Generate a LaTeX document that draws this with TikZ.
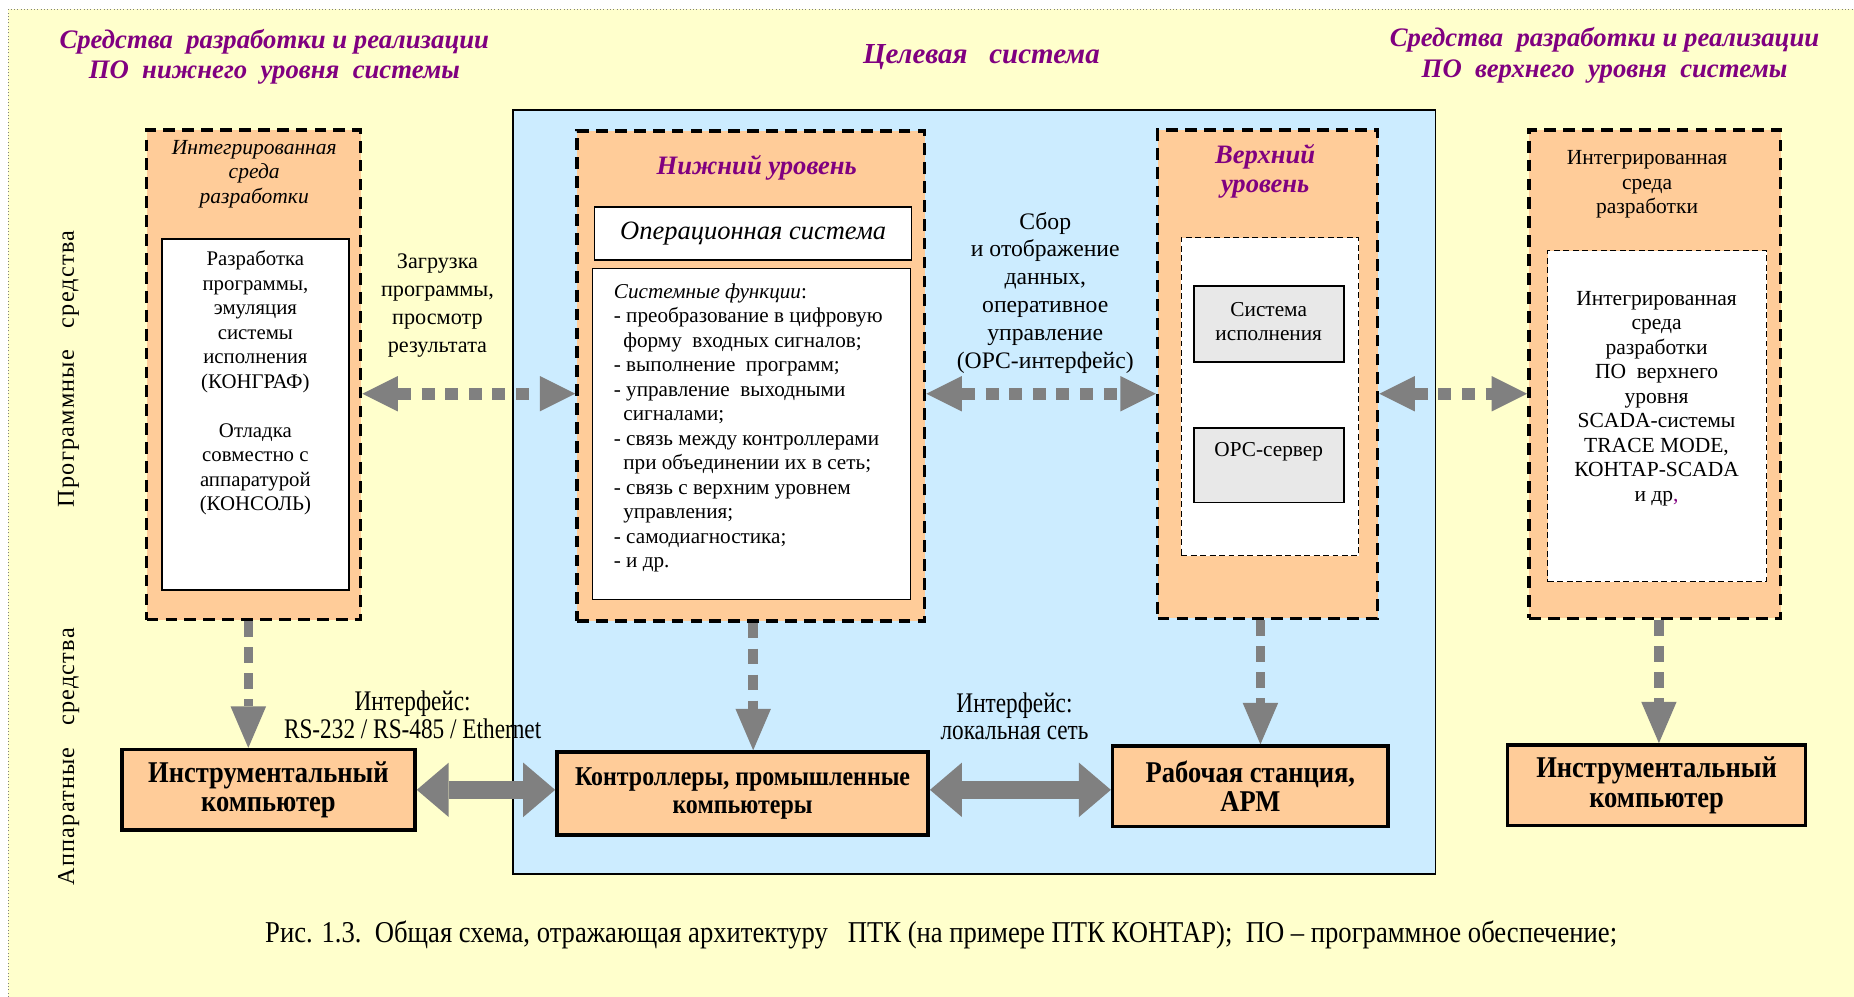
\documentclass[tikz,border=0pt]{standalone}
\usepackage{fontspec}
\setmainfont{Liberation Serif}
\newfontfamily\condserif[FakeStretch=0.88]{Liberation Serif}
\newfontfamily\narrowserif[FakeStretch=0.82]{Liberation Serif}
\newfontfamily\spacedserif[LetterSpace=5]{Liberation Serif}
\usetikzlibrary{arrows.meta}
\definecolor{bgyellow}{HTML}{FFFFCC}
\definecolor{tblue}{HTML}{CCECFF}
\definecolor{orng}{HTML}{FFCC99}
\definecolor{lgray}{HTML}{E8E8E8}
\definecolor{agray}{HTML}{808080}
\definecolor{purp}{HTML}{800080}
\begin{document}
\begin{tikzpicture}[x=1pt,y=-1pt,
  dbox/.style={draw=black, line width=3pt, dash pattern=on 10pt off 6pt, fill=orng, inner sep=0pt},
  hwbox/.style={draw=black, line width=3pt, fill=orng, align=center, inner sep=0pt,
    font=\condserif\bfseries\fontsize{25.5}{25}\selectfont},
  wbox/.style={draw=black, line width=1.2pt, fill=white, inner sep=0pt},
  thindash/.style={draw=black, line width=1.2pt, dash pattern=on 5pt off 3pt, fill=white, inner sep=0pt},
  graybox/.style={draw=black, line width=1.6pt, fill=lgray, inner sep=0pt},
  ttl/.style={text=purp, font=\bfseries\itshape\fontsize{22.6}{26}\selectfont, align=center, inner sep=0pt},
  body/.style={font=\fontsize{17.6}{20.7}\selectfont, align=center, inner sep=0pt},
  lbl/.style={font=\fontsize{18.8}{23.5}\selectfont, align=center, inner sep=0pt},
  clbl/.style={font=\narrowserif\fontsize{24}{23}\selectfont, align=center, inner sep=0pt},
  dotarrow/.style={draw=agray, line width=10pt, dash pattern=on 11pt off 9pt,
    {Triangle[length=30pt,width=30pt,line width=0pt]}-{Triangle[length=30pt,width=30pt,line width=0pt]}},
  dasharrow/.style={draw=agray, line width=8pt, dash pattern=on 13pt off 9pt,
    -{Triangle[length=35pt,width=30pt,line width=0pt]}},
  solidarrow/.style={draw=agray, line width=15pt,
    {Triangle[length=27pt,width=46pt,line width=0pt]}-{Triangle[length=27pt,width=46pt,line width=0pt]}},
]
\useasboundingbox (0,0) rectangle (1568,843);
\fill[bgyellow] (7,8) rectangle (1568,843);
\draw[gray, line width=0.8pt, dotted] (7,843) -- (7,8) -- (1568,8);

% titles
\node[ttl] (tl) at (232,48) {Средства\ \ разработки и реализации\\ПО\ \ нижнего\ \ уровня\ \ системы};
\node[ttl, font=\bfseries\itshape\fontsize{24.5}{28}\selectfont] (tc) at (830,48) {Целевая\ \ \ система};
\node[ttl] (tr) at (1357,47) {Средства\ \ разработки и реализации\\ПО\ \ верхнего\ \ уровня\ \ системы};

% side labels
\node[font=\spacedserif\fontsize{20.5}{24}\selectfont, rotate=90, inner sep=0pt] (vsw) at (58,312) {Программные\ \ \ средства};
\node[font=\spacedserif\fontsize{20.5}{24}\selectfont, rotate=90, inner sep=0pt] (vhw) at (58,640) {Аппаратные\ \ \ средства};

% target system
\node[draw=black, line width=1.2pt, fill=tblue, minimum width=780pt, minimum height=646pt, inner sep=0pt] (target) at (824,416) {};

% left development box
\node[dbox, minimum width=181pt, minimum height=414pt] (ldev) at (214.5,317) {};
\node[body, font=\itshape\fontsize{18.2}{20.7}\selectfont] (ldevt) at (215,147) {Интегрированная\\среда\\разработки};
\node[wbox, minimum width=158pt, minimum height=297pt] (lin) at (216,350.5) {};
\node[body] (lintxt) at (216,324) {Разработка\\программы,\\эмуляция\\системы\\исполнения\\(КОНГРАФ)\\[20.7pt]Отладка\\совместно с\\аппаратурой\\(КОНСОЛЬ)};

% lower level
\node[dbox, minimum width=294pt, minimum height=414pt] (mid) at (635,318) {};
\node[ttl, font=\bfseries\itshape\fontsize{22.5}{24}\selectfont] (midt) at (640,142) {Нижний уровень};
\node[wbox, minimum width=268pt, minimum height=45pt, font=\itshape\fontsize{22.4}{26}\selectfont] (os) at (637,197.5) {Операционная система};
\node[wbox, minimum width=269pt, minimum height=280pt] (fn) at (635.5,367) {};
\node[body, font=\fontsize{17.9}{20.7}\selectfont, align=left, anchor=west] (fntxt) at (519,362) {{\itshape Системные функции}:\\
- преобразование в цифровую\\
\hspace*{8pt}форму\ \ входных сигналов;\\
- выполнение\ \ программ;\\
- управление\ \ выходными\\
\hspace*{8pt}сигналами;\\
- связь между контроллерами\\
\hspace*{8pt}при объединении их в сеть;\\
- связь с верхним уровнем\\
\hspace*{8pt}управления;\\
- самодиагностика;\\
- и др.};

% upper level
\node[dbox, minimum width=186pt, minimum height=413pt] (up) at (1072,316.5) {};
\node[ttl, font=\bfseries\itshape\fontsize{22.5}{24}\selectfont] (upt) at (1070,145) {Верхний\\уровень};
\node[thindash, minimum width=150pt, minimum height=269pt] (upin) at (1074,335.5) {};
\node[graybox, minimum width=127pt, minimum height=64pt] (rt) at (1073.5,274) {};
\node[body, font=\fontsize{18}{20.5}\selectfont] (rtt) at (1073,272) {Система\\исполнения};
\node[graybox, minimum width=127pt, minimum height=63pt] (opc) at (1073.5,393.5) {};
\node[body, font=\fontsize{18}{20.5}\selectfont] (opct) at (1073,382) {ОРС-сервер};

% right development box
\node[dbox, minimum width=213pt, minimum height=413pt] (rdev) at (1399.5,316.5) {};
\node[body, font=\fontsize{18.2}{20.7}\selectfont] (rdevt) at (1393,156) {Интегрированная\\среда\\разработки};
\node[thindash, minimum width=185pt, minimum height=280pt] (rin) at (1401.5,352) {};
\node[body, font=\fontsize{18.2}{20.7}\selectfont] (rintxt) at (1401,337) {Интегрированная\\среда\\разработки\\ПО\ \ верхнего\\уровня\\SCADA-системы\\TRACE MODE,\\КОНТАР-SCADA\\и др{\color{purp},}};

% labels
\node[lbl] (load) at (370,258.5) {Загрузка\\программы,\\просмотр\\результата};
\node[lbl, font=\fontsize{20}{23.5}\selectfont] (collect) at (884,247.5) {Сбор\\и отображение\\данных,\\оперативное\\управление\\(ОРС-интерфейс)};
\node[clbl] (if1) at (349,604.5) {Интерфейс:\\RS-232 / RS-485 / Ethernet};
\node[clbl] (if2) at (858,605.5) {Интерфейс:\\локальная сеть};

% hardware
\node[hwbox, minimum width=248pt, minimum height=68pt] (linstr) at (227,668) {Инструментальный\\компьютер};
\node[hwbox, minimum width=314pt, minimum height=70pt, font=\condserif\bfseries\fontsize{23}{24}\selectfont] (ctrl) at (628,671) {Контроллеры, промышленные\\компьютеры};
\node[hwbox, minimum width=233pt, minimum height=68pt] (ws) at (1057.5,665) {Рабочая станция,\\АРМ};
\node[hwbox, minimum width=252pt, minimum height=68pt] (rinstr) at (1401,664) {Инструментальный\\компьютер};

% caption
\node[clbl, font=\condserif\fontsize{25.6}{24}\selectfont] (cap) at (796,791) {Рис. 1.3.\ \ Общая схема, отражающая архитектуру\ \ \ ПТК (на примере ПТК КОНТАР);\ \ ПО – программное обеспечение;};

% connectors
\coordinate (rA) at (0,333);
\coordinate (rB) at (0,668);
\coordinate (c1) at (210,0);
\coordinate (c2) at (637,0);
\coordinate (c3) at (1066,0);
\coordinate (c4) at (1403,0);
\draw[dotarrow] (ldev.east |- rA) -- (mid.west |- rA);
\draw[dotarrow] (mid.east |- rA) -- (up.west |- rA);
\draw[dotarrow] (up.east |- rA) -- (rdev.west |- rA);
\draw[dasharrow] (ldev.south -| c1) -- (linstr.north -| c1);
\draw[dasharrow] (mid.south -| c2) -- (ctrl.north -| c2);
\draw[dasharrow] (up.south -| c3) -- (ws.north -| c3);
\draw[dasharrow] (rdev.south -| c4) -- (rinstr.north -| c4);
\draw[solidarrow] (linstr.east |- rB) -- (ctrl.west |- rB);
\draw[solidarrow] (ctrl.east |- rB) -- (ws.west |- rB);
\end{tikzpicture}
\end{document}
